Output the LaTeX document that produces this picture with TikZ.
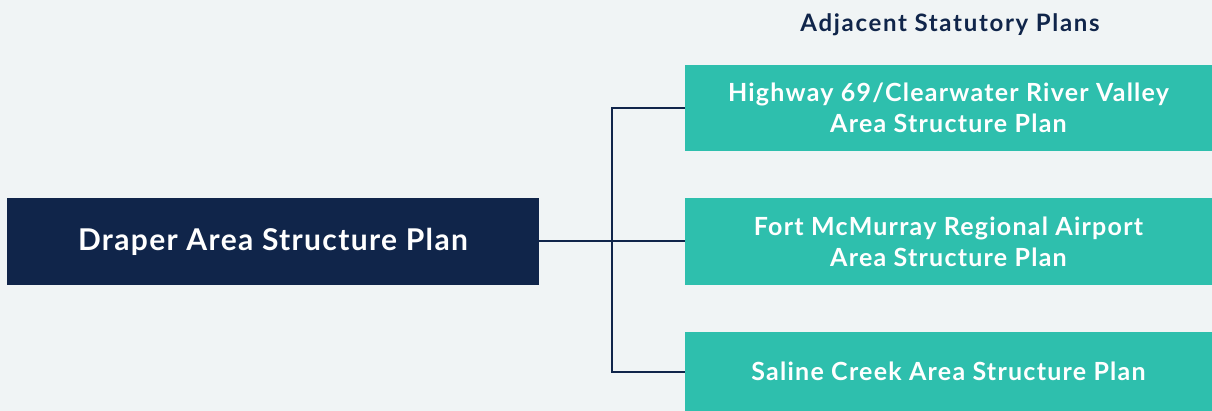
\documentclass[tikz,border=0pt]{standalone}
\usepackage{fontspec}
\setmainfont{Lato}
\definecolor{bgcol}{HTML}{F0F4F5}
\definecolor{navy}{HTML}{10254A}
\definecolor{teal}{HTML}{2EBFAD}
\begin{document}
\begin{tikzpicture}[x=1pt,y=-1pt,
  mainbox/.style={fill=navy,draw=none,text=white,
    font=\bfseries\addfontfeature{LetterSpace=4.5}\fontsize{30}{34}\selectfont,
    minimum width=532pt,minimum height=87pt,inner sep=0pt,align=center},
  planbox/.style={fill=teal,draw=none,text=white,
    font=\bfseries\addfontfeature{LetterSpace=5}\fontsize{25}{31}\selectfont,
    minimum width=527pt,inner sep=0pt,align=center},
  link/.style={draw=navy,line width=2pt}]
  % canvas
  \fill[bgcol] (0,0) rectangle (1212,411);
  \useasboundingbox (0,0) rectangle (1212,411);
  % heading
  \node[text=navy,font=\bfseries\addfontfeature{LetterSpace=7}\fontsize{24}{27}\selectfont] (title) at (950,25) {Adjacent Statutory Plans};
  % boxes
  \node[mainbox] (draper) at (273,241.5) {Draper Area Structure Plan};
  \node[planbox,minimum height=86pt] (hwy) at (948.5,108) {Highway 69/Clearwater River Valley\\Area Structure Plan};
  \node[planbox,minimum height=87pt] (fort) at (948.5,241.5) {Fort McMurray Regional Airport\\Area Structure Plan};
  \node[planbox,minimum height=79pt] (saline) at (948.5,371.5) {Saline Creek Area Structure Plan};
  % connectors
  \coordinate (junction) at (612,241.5);
  \draw[link] (draper.east) -- (fort.west);
  \draw[link] (hwy.west) -| (junction);
  \draw[link] (saline.west) -| (junction);
\end{tikzpicture}
\end{document}
